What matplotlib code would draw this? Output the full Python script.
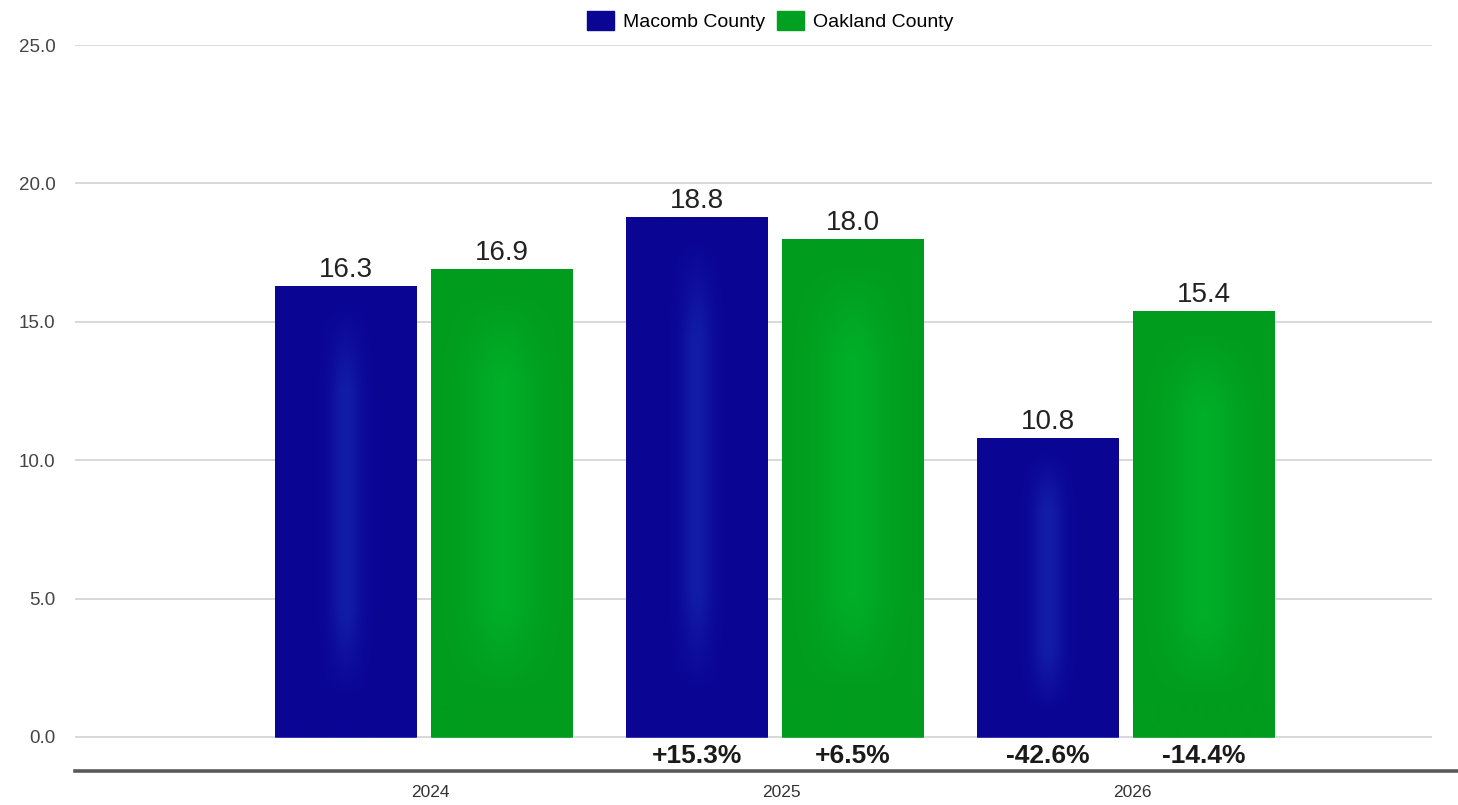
import numpy as np
import matplotlib.pyplot as plt
from matplotlib.colors import to_rgb
from matplotlib.lines import Line2D
from matplotlib.patches import Patch
import matplotlib.transforms as mtransforms

plt.rcParams['font.family'] = ['Liberation Sans', 'DejaVu Sans']

# yearly values per county
years = ['2024', '2025', '2026']
macomb = [16.3, 18.8, 10.8]
oakland = [16.9, 18.0, 15.4]
# year-over-year change shown under each bar
macomb_chg = ['', '+15.3%', '-42.6%']
oakland_chg = ['', '+6.5%', '-14.4%']

blue_edge, blue_mid = '#0b0594', '#1424ae'
green_edge, green_mid = '#009c1e', '#00b62c'

W, H = 1458, 805
fig = plt.figure(figsize=(W / 100, H / 100), dpi=100)
ax = fig.add_axes([75 / W, (H - 771) / H, (1432 - 75) / W, (771 - 45) / H])

x = np.arange(len(years))
off = 0.222
bw = 0.402


def shade(bars, edge, mid, width, strength):
    # soft lighter band down the middle of each bar
    e = np.array(to_rgb(edge))
    m = np.array(to_rgb(mid))
    u = np.linspace(-1, 1, 60)
    v = np.linspace(0, 1, 80)
    U, V = np.meshgrid(u, v)
    vert = np.clip((np.sin(np.pi * (V * 1.15 - 0.05))) * 1.6, 0, 1)
    k = np.exp(-(U / width) ** 2) * vert * strength
    img = e[None, None, :] * (1 - k[..., None]) + m[None, None, :] * k[..., None]
    for b in bars:
        x0, y0 = b.get_x(), b.get_y()
        im = ax.imshow(img, extent=[x0, x0 + b.get_width(), y0, y0 + b.get_height()],
                       aspect='auto', zorder=3, interpolation='bilinear')
        im.set_clip_path(b)


b1 = ax.bar(x - off, macomb, bw, color=blue_edge, edgecolor='#2a2ab8', linewidth=0.6, zorder=2)
b2 = ax.bar(x + off, oakland, bw, color=green_edge, edgecolor='#1fa83a', linewidth=0.6, zorder=2)
shade(b1, blue_edge, blue_mid, 0.22, 0.75)
shade(b2, green_edge, green_mid, 0.5, 0.7)

for bars, vals in ((b1, macomb), (b2, oakland)):
    for b, v in zip(bars, vals):
        ax.annotate(f'{v:.1f}', (b.get_x() + b.get_width() / 2, v), xytext=(0, 2),
                    textcoords='offset points', ha='center', va='bottom',
                    fontsize=20, color='#222222', zorder=5)

for xs, labels in ((x - off, macomb_chg), (x + off, oakland_chg)):
    for xi, t in zip(xs, labels):
        if t:
            ax.text(xi, -0.68, t, ha='center', va='center', fontsize=19,
                    fontweight='bold', color='#1a1a1a')

ax.set_xlim(-0.993, 2.873)
ax.set_ylim(-1.23, 25)
ax.set_yticks([0, 5, 10, 15, 20, 25])
ax.set_yticklabels([f'{t:.1f}' for t in [0, 5, 10, 15, 20, 25]])
ax.set_xticks(x)
ax.set_xticklabels(years)
ax.tick_params(axis='y', length=0, pad=14, labelsize=13.5, labelcolor='#444444')
ax.tick_params(axis='x', length=0, pad=10, labelsize=12.5, labelcolor='#333333')
shift = mtransforms.ScaledTranslation(7 / 100, 0, fig.dpi_scale_trans)
for lab in ax.get_xticklabels():
    lab.set_transform(lab.get_transform() + shift)

ax.grid(axis='y', color='#d2d2d2', linewidth=1.2, zorder=0)
for s in ax.spines.values():
    s.set_visible(False)

# heavy baseline running to the right edge
fig.add_artist(Line2D([75 / W, 1.0], [(H - 771) / H] * 2, color='#5a5a5a', linewidth=2.6))

handles = [Patch(facecolor=blue_edge, edgecolor=blue_edge, label='Macomb County'),
           Patch(facecolor='#00a020', edgecolor='#00a020', label='Oakland County')]
fig.legend(handles=handles, loc='center', bbox_to_anchor=(770 / W, 1 - 21 / H), ncol=2,
           frameon=False, fontsize=14, handlelength=1.4, handleheight=1.1,
           handletextpad=0.45, columnspacing=0.6)

fig.savefig('out.png', dpi=100, facecolor='white')
